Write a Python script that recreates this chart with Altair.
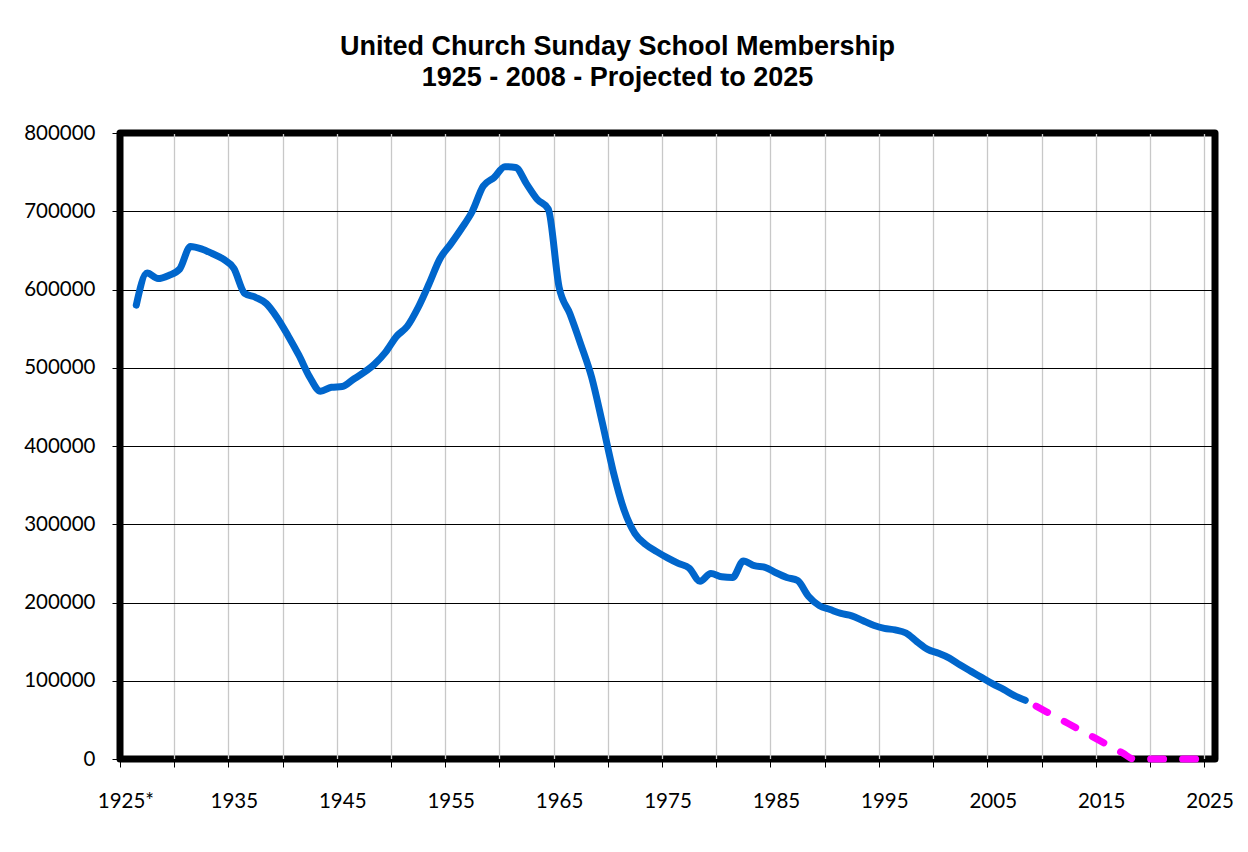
import altair as alt
import pandas as pd

# Actual membership 1926-2008
years_actual = [1926, 1927, 1928, 1929, 1930, 1931, 1932, 1933, 1934, 1935,
                1936, 1937, 1938, 1939, 1940, 1941, 1942, 1943, 1944, 1945,
                1946, 1947, 1948, 1949, 1950, 1951, 1952, 1953, 1954, 1955,
                1956, 1957, 1958, 1959, 1960, 1961, 1962, 1963, 1964, 1965,
                1966, 1967, 1968, 1969, 1970, 1971, 1972, 1973, 1974, 1975,
                1976, 1977, 1978, 1979, 1980, 1981, 1982, 1983, 1984, 1985,
                1986, 1987, 1988, 1989, 1990, 1991, 1992, 1993, 1994, 1995,
                1996, 1997, 1998, 1999, 2000, 2001, 2002, 2003, 2004, 2005,
                2006, 2007, 2008]
members_actual = [580000, 621000, 614000, 618000, 626000, 655000, 652000, 646000, 639000, 627000,
                  595000, 590000, 582000, 564000, 541000, 516000, 488000, 470000, 475000, 476000,
                  485000, 494000, 505000, 520000, 540000, 553000, 577000, 607000, 639000, 658000,
                  678000, 700000, 732000, 743000, 757000, 756000, 735000, 715000, 703000, 603000,
                  569000, 530000, 488000, 429000, 367000, 318000, 288000, 274000, 265000, 257000,
                  250000, 244000, 227000, 237000, 233000, 232000, 253000, 247000, 245000, 238000,
                  232000, 228000, 208000, 196000, 191000, 186000, 183000, 177000, 171000, 167000,
                  165000, 161000, 150000, 140000, 135000, 129000, 120000, 112000, 104000, 96000,
                  89000, 81000, 75000]

# Projection 2009-2025
years_proj = [2009, 2010, 2011, 2012, 2013, 2014, 2015, 2016, 2017,
              2018, 2019, 2020, 2021, 2022, 2023, 2024, 2025]
members_proj = [67500, 60000, 52500, 45000, 37500, 30000, 22500, 15000, 7500,
                0, 0, 0, 0, 0, 0, 0, 0]

# Axis tick positions (category boundaries) and y ticks
x_tick_values = [1924.5, 1929.5, 1934.5, 1939.5, 1944.5, 1949.5, 1954.5, 1959.5,
                 1964.5, 1969.5, 1974.5, 1979.5, 1984.5, 1989.5, 1994.5, 1999.5,
                 2004.5, 2009.5, 2014.5, 2019.5, 2024.5]
y_tick_values = [0, 100000, 200000, 300000, 400000, 500000, 600000, 700000, 800000]

df_a = pd.DataFrame({"Year": years_actual, "Members": members_actual})
df_p = pd.DataFrame({"Year": years_proj, "Members": members_proj})

x_scale = alt.Scale(domain=[1924.5, 2025.5], nice=False, zero=False)
y_scale = alt.Scale(domain=[0, 800000], nice=False)

label_expr = ("datum.value == 1924.5 ? '1925*' : "
              "((datum.value - 1924.5) % 10 == 0 ? format(datum.value + 0.5, 'd') : '')")

x_axis = alt.Axis(
    values=x_tick_values, title=None, domain=False,
    grid=True, gridColor="#c8c8c8", gridWidth=1.3,
    gridOpacity={"condition": {"test": "datum.value < 1925", "value": 0}, "value": 1},
    ticks=True, tickColor="black", tickSize=8, tickWidth=1,
    labelExpr=label_expr, labelOffset=5.42, labelFlush=False, labelOverlap=False,
    labelFont="Lato", labelFontSize=20.5, labelColor="black",
    labelPadding=40, labelBaseline="alphabetic",
)
y_axis = alt.Axis(
    values=y_tick_values, format="d", title=None, domain=False,
    grid=True, gridColor="black", gridWidth=1,
    ticks=True, tickColor="black", tickSize=8, tickWidth=1,
    labelFont="Lato", labelFontSize=20.5, labelColor="black", labelPadding=17,
)

actual = alt.Chart(df_a).mark_line(
    color="#0066CC", strokeWidth=7, interpolate="monotone",
    strokeCap="round", strokeJoin="round",
).encode(
    x=alt.X("Year:Q", scale=x_scale, axis=x_axis),
    y=alt.Y("Members:Q", scale=y_scale, axis=y_axis),
)

proj = alt.Chart(df_p).mark_line(
    color="#FF00FF", strokeWidth=7, interpolate="monotone",
    strokeCap="round", strokeJoin="round", strokeDash=[13, 19],
).encode(
    x=alt.X("Year:Q", scale=x_scale),
    y=alt.Y("Members:Q", scale=y_scale),
)

chart = alt.layer(actual, proj).properties(
    width=1095, height=626,
    background="white",
    autosize=alt.AutoSizeParams(type="none"),
    padding={"left": 112, "top": 125, "right": 25, "bottom": 70},
    title=alt.TitleParams(
        text=["United Church Sunday School Membership", "1925 - 2008 - Projected to 2025"],
        font="Liberation Sans", fontSize=27, fontWeight="bold", color="black",
        anchor="middle", frame="group", dx=-50, lineHeight=31.5,
        baseline="alphabetic", offset=10,
    ),
).configure_view(
    stroke="black", strokeWidth=7, strokeJoin="round",
)

chart.save("out.html", embed_options={"renderer": "svg", "actions": False})
